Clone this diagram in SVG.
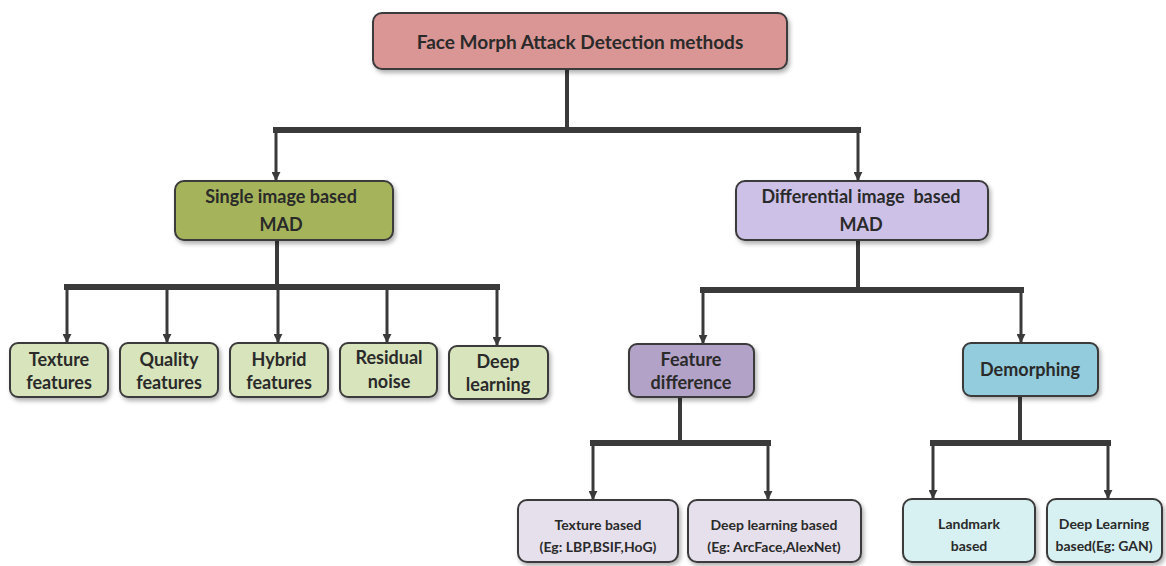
<svg xmlns="http://www.w3.org/2000/svg" width="1166" height="566" viewBox="0 0 1166 566">
<defs>
<filter id="sh" x="-10%" y="-10%" width="130%" height="140%">
<feDropShadow dx="2" dy="3" stdDeviation="2" flood-color="#000" flood-opacity="0.3"/>
</filter>
<marker id="ah" viewBox="0 0 10 10" refX="9" refY="5" markerWidth="3" markerHeight="3" orient="auto" markerUnits="strokeWidth">
<path d="M0,0 L10,5 L0,10 z" fill="#3a3a3a"/>
</marker>
<style>
.box{stroke:#3a3a3a;stroke-width:2;filter:url(#sh)}
.t{font-family:Lato,"Open Sans","Liberation Sans",sans-serif;font-weight:bold;fill:#2a2a2a;text-anchor:middle}
.big{font-size:19px}
.mid{font-size:18px}
.sm{font-size:14px}
.bar{stroke:#3a3a3a;stroke-width:6;fill:none}
.stem{stroke:#3a3a3a;stroke-width:4;fill:none}
.arr{stroke:#3a3a3a;stroke-width:3;fill:none;marker-end:url(#ah)}
</style>
</defs>
<rect width="1166" height="566" fill="#fff"/>
<g id="connectors">
<line class="stem" x1="567" y1="69" x2="567" y2="130"/>
<line class="bar" x1="273" y1="130" x2="861" y2="130"/>
<line class="arr" x1="276" y1="130" x2="276" y2="180"/>
<line class="arr" x1="858" y1="130" x2="858" y2="180"/>
<line class="stem" x1="277" y1="240" x2="277" y2="287"/>
<line class="bar" x1="64" y1="287" x2="500" y2="287"/>
<line class="arr" x1="67" y1="287" x2="67" y2="342"/>
<line class="arr" x1="167" y1="287" x2="167" y2="342"/>
<line class="arr" x1="278" y1="287" x2="278" y2="342"/>
<line class="arr" x1="387" y1="287" x2="387" y2="342"/>
<line class="arr" x1="497" y1="287" x2="497" y2="345"/>
<line class="stem" x1="858" y1="240" x2="858" y2="290"/>
<line class="bar" x1="700" y1="290" x2="1024" y2="290"/>
<line class="arr" x1="703" y1="290" x2="703" y2="343"/>
<line class="arr" x1="1021" y1="290" x2="1021" y2="342"/>
<line class="stem" x1="680" y1="397" x2="680" y2="443"/>
<line class="bar" x1="590" y1="443" x2="771" y2="443"/>
<line class="arr" x1="593" y1="443" x2="593" y2="499"/>
<line class="arr" x1="768" y1="443" x2="768" y2="499"/>
<line class="stem" x1="1020" y1="396" x2="1020" y2="443"/>
<line class="bar" x1="930" y1="443" x2="1111" y2="443"/>
<line class="arr" x1="933" y1="443" x2="933" y2="498"/>
<line class="arr" x1="1108" y1="443" x2="1108" y2="498"/>
</g>
<g id="root">
<rect class="box" x="373" y="13" width="414" height="56" rx="9" fill="#d99694"/>
<text class="t big" x="580" y="49">Face Morph Attack Detection methods</text>
</g>
<g id="single">
<rect class="box" x="175" y="181" width="218" height="59" rx="9" fill="#a5b45a"/>
<text class="t mid" x="281" y="203">Single image based</text>
<text class="t mid" x="281" y="231">MAD</text>
</g>
<g id="differential">
<rect class="box" x="736" y="181" width="252" height="59" rx="9" fill="#cdc1e8"/>
<text class="t mid" x="861" y="203" xml:space="preserve">Differential image  based</text>
<text class="t mid" x="861" y="231">MAD</text>
</g>
<g id="texture">
<rect class="box" x="10" y="343" width="98" height="54" rx="8" fill="#d8e4bc"/>
<text class="t mid" x="59" y="366">Texture</text>
<text class="t mid" x="59" y="389">features</text>
</g>
<g id="quality">
<rect class="box" x="120" y="343" width="98" height="54" rx="8" fill="#d8e4bc"/>
<text class="t mid" x="169" y="366">Quality</text>
<text class="t mid" x="169" y="389">features</text>
</g>
<g id="hybrid">
<rect class="box" x="230" y="343" width="98" height="54" rx="8" fill="#d8e4bc"/>
<text class="t mid" x="279" y="366">Hybrid</text>
<text class="t mid" x="279" y="389">features</text>
</g>
<g id="residual">
<rect class="box" x="340" y="343" width="97" height="54" rx="8" fill="#d8e4bc"/>
<text class="t mid" x="389" y="364">Residual</text>
<text class="t mid" x="389" y="388">noise</text>
</g>
<g id="deep">
<rect class="box" x="449" y="346" width="99" height="53" rx="8" fill="#d8e4bc"/>
<text class="t mid" x="498" y="368">Deep</text>
<text class="t mid" x="498" y="391">learning</text>
</g>
<g id="featurediff">
<rect class="box" x="629" y="344" width="125" height="53" rx="8" fill="#b3a2c7"/>
<text class="t mid" x="691" y="366">Feature</text>
<text class="t mid" x="691" y="389">difference</text>
</g>
<g id="demorphing">
<rect class="box" x="963" y="343" width="135" height="53" rx="8" fill="#93cddd"/>
<text class="t mid" x="1030" y="376">Demorphing</text>
</g>
<g id="texturebased">
<rect class="box" x="518" y="500" width="160" height="62" rx="9" fill="#e6e0ec"/>
<text class="t sm" x="598" y="530">Texture based</text>
<text class="t sm" x="598" y="552">(Eg: LBP,BSIF,HoG)</text>
</g>
<g id="deepbased">
<rect class="box" x="688" y="500" width="173" height="62" rx="9" fill="#e6e0ec"/>
<text class="t sm" x="774" y="530">Deep learning based</text>
<text class="t sm" x="774" y="552">(Eg: ArcFace,AlexNet)</text>
</g>
<g id="landmark">
<rect class="box" x="903" y="499" width="132" height="63" rx="9" fill="#d7f0f1"/>
<text class="t sm" x="969" y="529">Landmark</text>
<text class="t sm" x="969" y="551">based</text>
</g>
<g id="gan">
<rect class="box" x="1047" y="499" width="115" height="63" rx="9" fill="#d7f0f1"/>
<text class="t sm" x="1104" y="529">Deep Learning</text>
<text class="t sm" x="1104" y="551">based(Eg: GAN)</text>
</g>
</svg>
